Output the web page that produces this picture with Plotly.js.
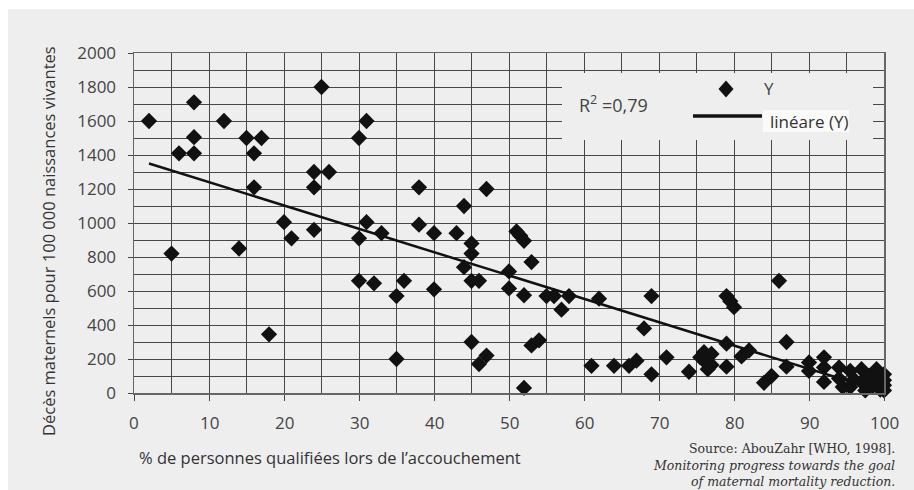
<!DOCTYPE html>
<html>
<head>
<meta charset="utf-8">
<script src="https://cdn.plot.ly/plotly-3.0.1.min.js"></script>
<style>
html,body{margin:0;padding:0;background:#ffffff;width:914px;height:490px;overflow:hidden}
#chart{position:absolute;left:8px;top:9px;width:906px;height:481px}
</style>
</head>
<body>
<div id="chart"></div>
<script>
// % de personnes qualifiées lors de l'accouchement
const skilledPct = [
  2, 5, 6, 8, 8, 8, 12, 14, 15, 16, 16, 17, 18,
  20, 21, 24, 24, 24, 25, 26,
  30, 31, 30, 31, 33, 30, 32, 35, 35, 36,
  38, 38, 40, 40, 43, 44, 45, 45, 44, 45, 46, 45, 46, 47, 47,
  51, 51.5, 52, 53, 50, 50, 52, 55, 56, 57, 58, 53, 54, 52,
  61, 62, 64, 66, 67, 68, 69, 69, 71, 74,
  76, 77, 76, 77, 76.5, 75.5, 79, 79.5, 80, 79, 79, 81, 82, 84, 85, 86, 87, 87,
  90, 90, 92, 92, 92, 94, 94, 94.5, 95.5, 95.5, 96, 97, 97, 97.5,
  98, 98.5, 99, 99, 99.5, 100, 100, 100, 100
];
// Décès maternels pour 100 000 naissances vivantes
const maternalDeaths = [
  1600, 820, 1410, 1710, 1505, 1410, 1600, 850, 1500, 1410, 1210, 1500, 345,
  1005, 910, 960, 1300, 1210, 1800, 1300,
  1500, 1600, 910, 1005, 940, 660, 645, 570, 200, 660,
  1210, 990, 940, 610, 940, 1100, 880, 820, 740, 660, 660, 300, 170, 220, 1200,
  950, 925, 895, 770, 715, 615, 575, 570, 570, 490, 570, 280, 310, 30,
  160, 555, 160, 160, 190, 380, 570, 110, 210, 125,
  240, 230, 190, 165, 140, 210, 570, 540, 505, 290, 155, 215, 250, 60, 100, 660, 300, 155,
  180, 130, 210, 150, 65, 150, 85, 35, 130, 35, 80, 140, 65, 15,
  100, 40, 140, 85, 20, 110, 45, 15, 75
];
// Droite de régression (linéare (Y))
const trendX = [2, 100];
const trendY = [1350, 5];

const xTickVals = [0, 10, 20, 30, 40, 50, 60, 70, 80, 90, 100];
const yTickVals = [0, 200, 400, 600, 800, 1000, 1200, 1400, 1600, 1800, 2000];

const r2Text = 'R<sup>2</sup> =0,79';
const legendMarkerName = 'Y';
const legendLineName = 'linéare (Y)';
const xTitle = '% de personnes qualifiées lors de l\u2019accouchement';
const yTitle = 'Décès maternels pour 100 000 naissances vivantes';
const sourceLines = [
  'Source: AbouZahr [WHO, 1998].',
  '<i>Monitoring progress towards the goal</i>',
  '<i>of maternal mortality reduction.</i>'
];

// page-pixel -> paper helpers (plot area: x 134..884, y 53..393 on page)
const PL = 134, PR = 884, PT = 53, PB = 393;
const px = v => (v - PL) / (PR - PL);
const py = v => (PB - v) / (PB - PT);

const gridCol = '#474747';
const bg = '#eeeeee';
const serif = "'DejaVu Serif', 'Liberation Serif', serif";
const sans = "'Open Sans', sans-serif";

const traces = [
  {
    x: skilledPct, y: maternalDeaths, type: 'scatter', mode: 'markers',
    name: legendMarkerName, cliponaxis: false,
    marker: {symbol: 'diamond', size: 12.5, color: '#111111', line: {width: 0}}
  },
  {
    x: trendX, y: trendY, type: 'scatter', mode: 'lines',
    name: legendLineName, cliponaxis: false,
    line: {color: '#111111', width: 2.5}
  }
];

function diamondPath(cx, cy, hw, hh) {
  return 'M' + px(cx - hw) + ',' + py(cy) + ' L' + px(cx) + ',' + py(cy - hh) +
         ' L' + px(cx + hw) + ',' + py(cy) + ' L' + px(cx) + ',' + py(cy + hh) + ' Z';
}

// x tick labels placed as annotations on the x scale
const xTickLabels = xTickVals.map(v => ({
  text: String(v), xref: 'x', yref: 'paper', x: v, y: py(422),
  xanchor: 'center', yanchor: 'middle', showarrow: false,
  font: {family: sans, size: 17, color: '#444444'}
}));

const layout = {
  width: 906, height: 481,
  margin: {l: 126, r: 30, t: 44, b: 97, pad: 0},
  paper_bgcolor: bg, plot_bgcolor: bg,
  showlegend: false,
  font: {family: sans, color: '#333333'},
  xaxis: {
    range: [0, 100], tickvals: xTickVals, showticklabels: false,
    showgrid: true, gridcolor: gridCol, gridwidth: 1,
    minor: {dtick: 5, showgrid: true, gridcolor: gridCol, gridwidth: 1},
    ticks: 'outside', ticklen: 6, tickcolor: gridCol, tickwidth: 1,
    showline: true, mirror: true, linecolor: '#666666', linewidth: 1.5,
    zeroline: false
  },
  yaxis: {
    range: [0, 2000], tickvals: yTickVals, ticktext: yTickVals.map(String),
    showgrid: true, gridcolor: gridCol, gridwidth: 1,
    minor: {dtick: 100, showgrid: true, gridcolor: gridCol, gridwidth: 1},
    ticks: 'outside', ticklen: 5, tickcolor: gridCol, tickwidth: 1,
    ticklabelstandoff: 8,
    showline: true, mirror: true, linecolor: '#666666', linewidth: 1.5,
    zeroline: false,
    tickfont: {family: sans, size: 17, color: '#444444'}
  },
  shapes: [
    // legend box
    {type: 'rect', xref: 'paper', yref: 'paper', layer: 'above',
     x0: px(562), x1: px(873), y0: py(140), y1: py(73),
     fillcolor: bg, line: {width: 0}},
    // white box behind the line label
    {type: 'rect', xref: 'paper', yref: 'paper', layer: 'above',
     x0: px(763), x1: px(849), y0: py(132), y1: py(110),
     fillcolor: '#fafafa', line: {width: 0}},
    // legend diamond
    {type: 'path', xref: 'paper', yref: 'paper', layer: 'above',
     path: diamondPath(726, 89, 7.5, 8.5), fillcolor: '#111111', line: {width: 0}},
    // legend line
    {type: 'line', xref: 'paper', yref: 'paper', layer: 'above',
     x0: px(693), x1: px(762), y0: py(116), y1: py(116),
     line: {color: '#111111', width: 3.5}}
  ],
  annotations: xTickLabels.concat([
    {text: r2Text, xref: 'paper', yref: 'paper', x: px(577), y: py(104),
     xanchor: 'left', yanchor: 'middle', showarrow: false,
     font: {family: sans, size: 18, color: '#444444'}},
    {text: legendMarkerName, xref: 'paper', yref: 'paper', x: px(762), y: py(89),
     xanchor: 'left', yanchor: 'middle', showarrow: false,
     font: {family: sans, size: 17, color: '#444444'}},
    {text: legendLineName, xref: 'paper', yref: 'paper', x: px(768), y: py(122),
     xanchor: 'left', yanchor: 'middle', showarrow: false,
     font: {family: sans, size: 17, color: '#333333'}},
    {text: xTitle, xref: 'paper', yref: 'paper', x: px(330), y: py(457),
     xanchor: 'center', yanchor: 'middle', showarrow: false,
     font: {family: sans, size: 16.5, color: '#333333'}},
    {text: yTitle, xref: 'paper', yref: 'paper', x: px(48), y: py(241),
     xanchor: 'center', yanchor: 'middle', showarrow: false, textangle: -90,
     font: {family: sans, size: 16.5, color: '#333333'}},
    {text: sourceLines[0], xref: 'paper', yref: 'paper', x: px(897), y: py(448),
     xanchor: 'right', yanchor: 'middle', showarrow: false,
     font: {family: serif, size: 12.5, color: '#333333'}},
    {text: sourceLines[1], xref: 'paper', yref: 'paper', x: px(897), y: py(465.5),
     xanchor: 'right', yanchor: 'middle', showarrow: false,
     font: {family: serif, size: 12.5, color: '#333333'}},
    {text: sourceLines[2], xref: 'paper', yref: 'paper', x: px(897), y: py(481.5),
     xanchor: 'right', yanchor: 'middle', showarrow: false,
     font: {family: serif, size: 12.5, color: '#333333'}}
  ])
};

Plotly.newPlot('chart', traces, layout, {displayModeBar: false, staticPlot: true});
</script>
</body>
</html>
